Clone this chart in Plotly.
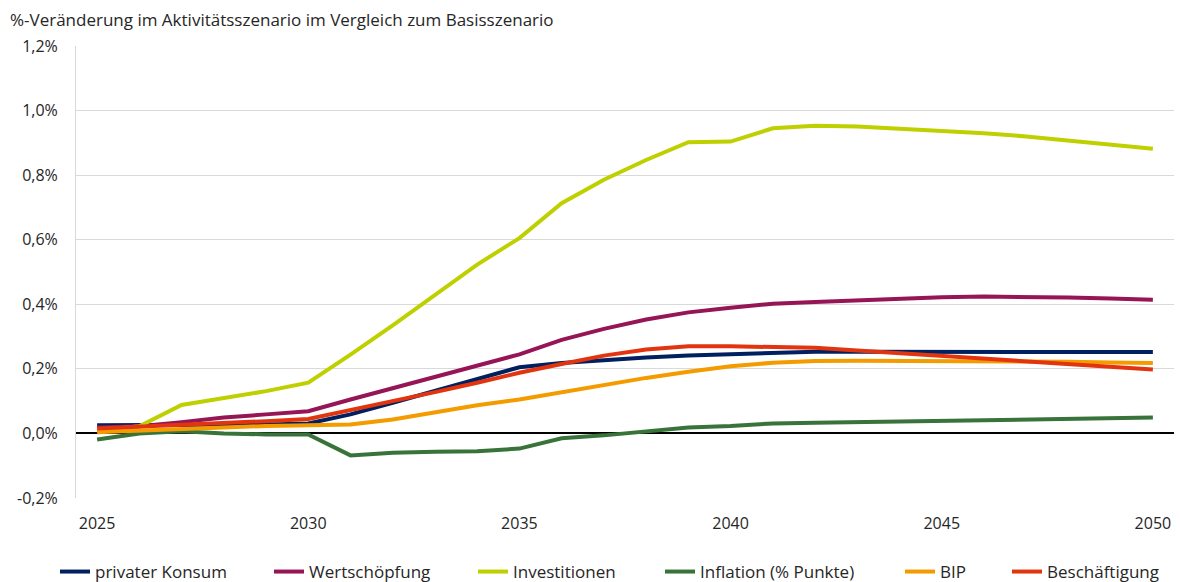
import plotly.graph_objects as go

years = list(range(2025, 2051))

privater_konsum = [0.025, 0.025, 0.025, 0.027, 0.028, 0.031, 0.059, 0.095, 0.131, 0.167,
                   0.205, 0.218, 0.228, 0.235, 0.241, 0.246, 0.251, 0.253, 0.253, 0.253,
                   0.253, 0.254, 0.254, 0.253, 0.253, 0.252]
wertschoepfung = [0.018, 0.022, 0.035, 0.049, 0.059, 0.069, 0.105, 0.140, 0.175, 0.210,
                  0.245, 0.290, 0.324, 0.353, 0.375, 0.389, 0.402, 0.407, 0.413, 0.418,
                  0.422, 0.424, 0.424, 0.421, 0.418, 0.414]
investitionen = [0.010, 0.022, 0.088, 0.108, 0.131, 0.157, 0.244, 0.335, 0.430, 0.523,
                 0.605, 0.713, 0.786, 0.847, 0.902, 0.904, 0.945, 0.953, 0.951, 0.945,
                 0.938, 0.930, 0.920, 0.907, 0.895, 0.882]
inflation = [-0.019, 0.000, 0.007, 0.000, -0.003, -0.003, -0.068, -0.060, -0.057, -0.055,
             -0.047, -0.015, -0.006, 0.005, 0.018, 0.023, 0.031, 0.033, 0.035, 0.036,
             0.037, 0.038, 0.040, 0.044, 0.047, 0.049]
bip = [0.004, 0.009, 0.014, 0.018, 0.023, 0.025, 0.028, 0.043, 0.066, 0.087,
       0.105, 0.128, 0.152, 0.172, 0.191, 0.208, 0.219, 0.224, 0.225, 0.225,
       0.225, 0.225, 0.224, 0.222, 0.220, 0.218]
beschaeftigung = [0.015, 0.020, 0.026, 0.033, 0.038, 0.045, 0.072, 0.100, 0.128, 0.157,
                  0.188, 0.215, 0.241, 0.260, 0.270, 0.270, 0.268, 0.265, 0.257, 0.249,
                  0.240, 0.232, 0.223, 0.215, 0.207, 0.198]

series_names = ["privater Konsum", "Wertschöpfung", "Investitionen",
                "Inflation (% Punkte)", "BIP", "Beschäftigung"]
series_values = [privater_konsum, wertschoepfung, investitionen, inflation, bip, beschaeftigung]
colors = ["#002060", "#961556", "#BED000", "#38733A", "#F49B00", "#E2350F"]

y_tickvals = [-0.2, 0.0, 0.2, 0.4, 0.6, 0.8, 1.0, 1.2]
y_ticktext = ["-0,2%", "0,0%", "0,2%", "0,4%", "0,6%", "0,8%", "1,0%", "1,2%"]
x_tickvals = [2025, 2030, 2035, 2040, 2045, 2050]

# left edge (px) of each legend entry, so entries sit where the reference shows them
legend_left_px = [55, 269, 473, 660, 900, 1007]

FONT = "Open Sans"
TXT = "#262626"
W, H = 1180, 582

fig = go.Figure()
legend_ids = ["legend"] + [f"legend{i}" for i in range(2, len(series_names) + 1)]
for name, vals, col, lid in zip(series_names, series_values, colors, legend_ids):
    fig.add_trace(go.Scatter(x=years, y=vals, name=name, mode="lines",
                             line=dict(color=col, width=4), legend=lid))

legend_layouts = {}
for lid, lx in zip(legend_ids, legend_left_px):
    legend_layouts[lid] = dict(
        orientation="h", xref="container", x=lx / W, xanchor="left",
        yref="container", y=10 / H, yanchor="middle",
        font=dict(family=FONT, size=17, color=TXT),
        itemwidth=30, bgcolor="rgba(0,0,0,0)", borderwidth=0)

fig.update_layout(
    width=W, height=H,
    paper_bgcolor="white", plot_bgcolor="white",
    margin=dict(l=76, r=6, t=46, b=84, autoexpand=False),
    font=dict(family=FONT, size=16, color=TXT),
    title=dict(text="%-Veränderung im Aktivitätsszenario im Vergleich zum Basisszenario",
               xref="container", x=10 / W, xanchor="left",
               yref="container", y=1 - 20 / H, yanchor="middle", pad=dict(l=0, r=0, t=0, b=0),
               font=dict(family=FONT, size=17, color=TXT)),
    showlegend=True,
    xaxis=dict(range=[2024.5, 2050.5], tickvals=x_tickvals, showgrid=False,
               zeroline=False, showline=False, ticks="outside", ticklen=11,
               tickcolor="rgba(0,0,0,0)", tickfont=dict(family=FONT, size=16, color=TXT),
               automargin=False),
    yaxis=dict(range=[-0.2, 1.2], tickvals=y_tickvals, ticktext=y_ticktext,
               showgrid=True, gridcolor="#D9D9D9", gridwidth=1,
               zeroline=True, zerolinecolor="#000000", zerolinewidth=1.5,
               showline=True, linecolor="#D9D9D9", linewidth=1,
               ticks="outside", ticklen=14, tickcolor="rgba(0,0,0,0)",
               tickfont=dict(family=FONT, size=16, color=TXT), automargin=False),
    **legend_layouts,
)

fig.write_html("out.html", config={"displayModeBar": False},
               post_script="document.body.style.margin='0';document.body.style.padding='0';")
